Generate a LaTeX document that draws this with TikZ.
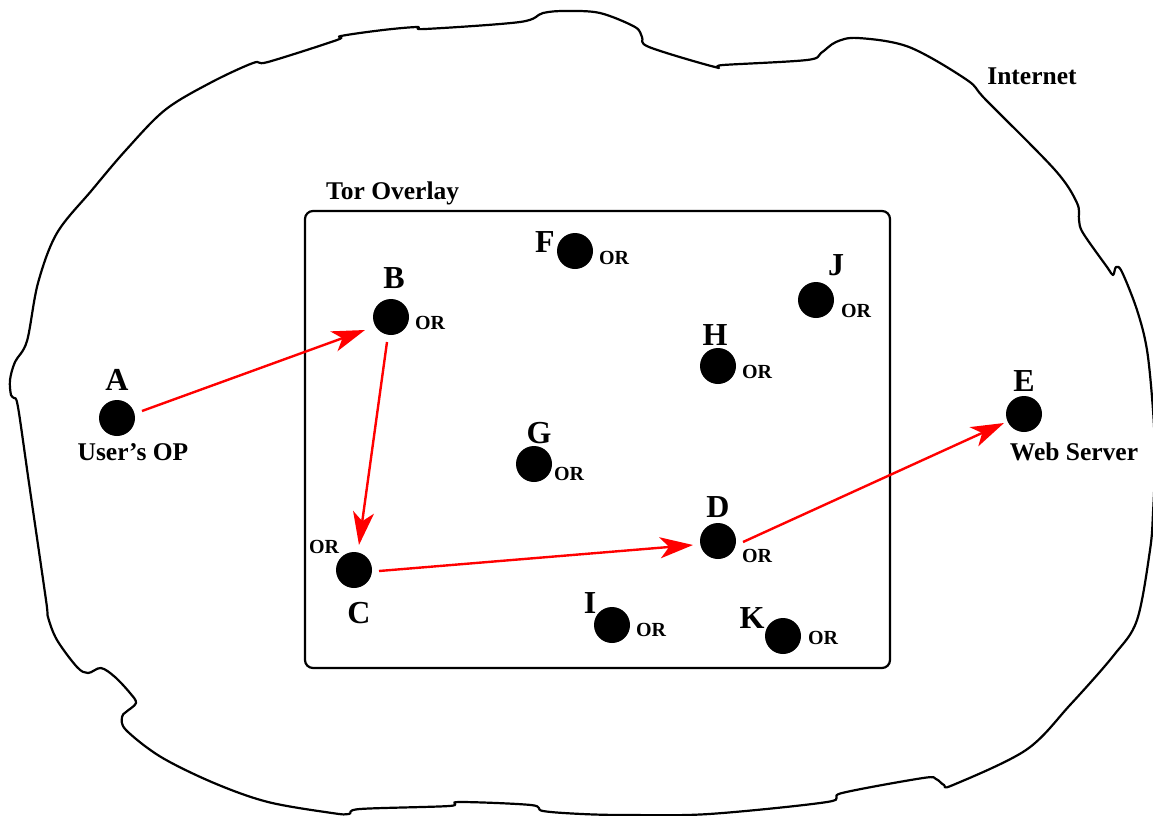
\documentclass[tikz,border=0pt]{standalone}
\usepackage{fontspec}
\setmainfont{Liberation Serif}
\usetikzlibrary{arrows.meta,calc}
\begin{document}
\begin{tikzpicture}[x=1pt,y=-1pt,
  dot/.style={circle,fill=black,inner sep=0pt,minimum size=36pt},
  letter/.style={font=\fontsize{32}{32}\selectfont\bfseries,inner sep=0pt,anchor=base},
  orlab/.style={font=\fontsize{20}{20}\selectfont\bfseries,inner sep=0pt,anchor=base},
  caption/.style={font=\fontsize{25.5}{25.5}\selectfont\bfseries,inner sep=0pt,anchor=base},
  link/.style={red,line width=2.4pt,-{Stealth[length=33pt,width=21pt,inset=9pt]}},
  outline/.style={line width=2.2pt,line join=round}]
\useasboundingbox (0,0) rectangle (1153,815);
\begin{scope}
\clip (0,0) rectangle (1153,815);
\draw[outline] plot[smooth cycle, tension=0.55] coordinates {
 (27,341) (38,283) (57,233) (92,190) (126,150) (165,110) (210,83) (253,63) (268,62)
 (337,40) (341,36) (383,30) (417,27) (425,29) (520,22) (543,13) (566,11) (600,13)
 (635,27) (642,37) (649,47) (715,67) (723,65) (807,60) (821,53) (836,42) (858,38)
 (909,47) (967,80) (986,100) (1055,170) (1077,203) (1079,220) (1083,233) (1107,267)
 (1113,275) (1116,267) (1122,272) (1137,310) (1147,350) (1153,410) (1155,460)
 (1153,513) (1150,550) (1137,620) (1114,655) (1070,705) (1026,750) (953,785)
 (944,785) (936,779) (923,778) (842,793) (827,802) (709,814) (628,815) (582,814)
 (543,811) (531,805) (459,802) (449,806) (360,809) (349,814) (332,813) (268,802)
 (214,783) (161,757) (126,730) (122,717) (126,712) (136,703) (130,693) (115,677)
 (101,668) (88,673) (77,667) (57,640) (48,617) (46,600) (29,483) (18,407) (14,398)
 (11,395) (10,380) (15,362)};
\end{scope}

\node[draw,line width=2.2pt,rounded corners=8pt,minimum width=585pt,minimum height=457pt,inner sep=0pt] (tor) at (597.5,439.5) {};

\node[caption,anchor=base west] (torlab) at (326,199) {Tor Overlay};
\node[caption] (netlab) at (1032,84) {Internet};

\node[dot] (A) at (117,418) {};
\node[dot] (B) at (391,317) {};
\node[dot] (C) at (354,570) {};
\node[dot] (D) at (718,541) {};
\node[dot] (E) at (1024,414) {};
\node[dot] (F) at (575,251) {};
\node[dot] (G) at (534,464) {};
\node[dot] (H) at (718,366) {};
\node[dot] (I) at (612,625) {};
\node[dot] (J) at (816,300) {};
\node[dot] (K) at (783,636) {};

\node[letter] (lA) at (117,390) {A};
\node[letter] (lB) at (394,288) {B};
\node[letter] (lC) at (359,623) {C};
\node[letter] (lD) at (718,517) {D};
\node[letter] (lE) at (1024,391) {E};
\node[letter] (lF) at (545,252) {F};
\node[letter] (lG) at (539,443) {G};
\node[letter] (lH) at (715,345) {H};
\node[letter] (lI) at (590,613) {I};
\node[letter] (lJ) at (836,275) {J};
\node[letter] (lK) at (752,628) {K};

\node[caption] (opA) at (133,460) {User’s OP};
\node[caption] (wsE) at (1074,460) {Web Server};

\node[orlab] (oB) at (430,329) {OR};
\node[orlab] (oC) at (324,553) {OR};
\node[orlab] (oD) at (757,562) {OR};
\node[orlab] (oF) at (614,264) {OR};
\node[orlab] (oG) at (569,480) {OR};
\node[orlab] (oH) at (757,378) {OR};
\node[orlab] (oI) at (651,636) {OR};
\node[orlab] (oJ) at (856,317) {OR};
\node[orlab] (oK) at (823,644) {OR};

\draw[link] ($(A)+(25,-7)$) -- ($(B)+(-26,13)$);
\draw[link] ($(B)+(-4,25)$) -- ($(C)+(5,-25)$);
\draw[link] ($(C)+(25,1)$) -- ($(D)+(-25,4)$);
\draw[link] ($(D)+(25,1)$) -- ($(E)+(-20,9)$);
\end{tikzpicture}
\end{document}
